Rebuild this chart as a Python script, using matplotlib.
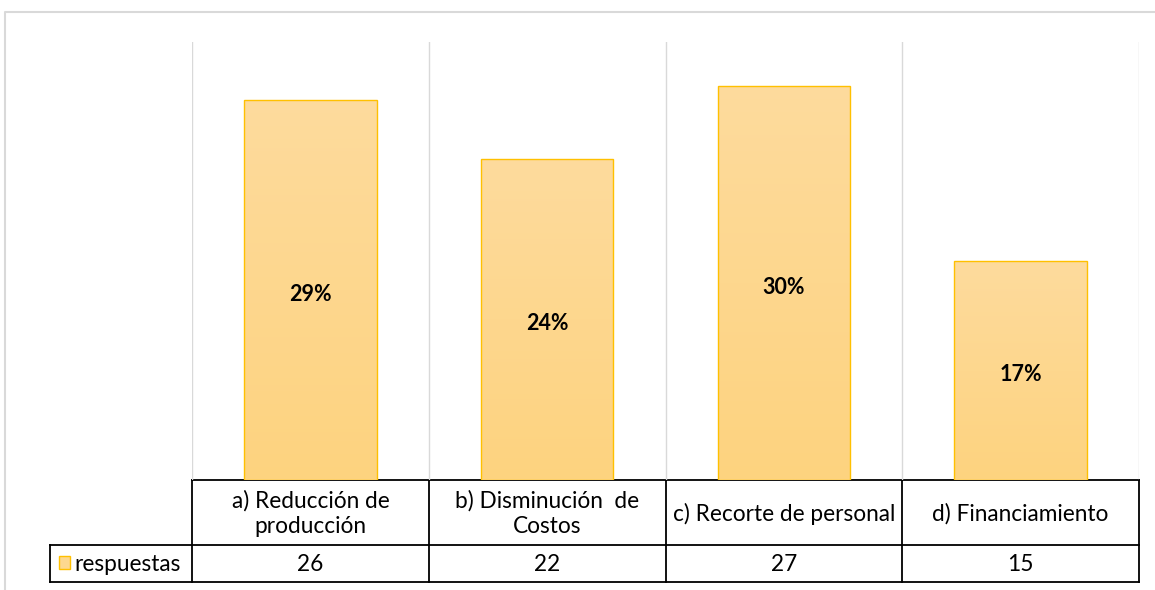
import matplotlib
matplotlib.use("Agg")
import matplotlib.pyplot as plt
import numpy as np
from matplotlib.colors import LinearSegmentedColormap
from matplotlib.patches import Rectangle

categories = ["a) Reducción de\nproducción", "b) Disminución  de\nCostos",
              "c) Recorte de personal", "d) Financiamiento"]
values = [26, 22, 27, 15]
pct_labels = ["29%", "24%", "30%", "17%"]
series_name = "respuestas"

plt.rcParams['font.family'] = ['Lato', 'DejaVu Sans']

W, H = 1155, 590
fig = plt.figure(figsize=(W / 100, H / 100), dpi=100)

# overlay axes in pixel coordinates (origin top-left)
ov = fig.add_axes([0, 0, 1, 1])
ov.set_xlim(0, W)
ov.set_ylim(H, 0)
ov.axis("off")

# outer chart border
ov.plot([5, 5, W + 5], [H + 5, 12, 12], color="#D9D9D9", lw=1.5, zorder=1)

# plot area
L, R, T, B = 192, 1139, 42, 480
ax = fig.add_axes([L / W, (H - B) / H, (R - L) / W, (B - T) / H])
ax.set_xlim(-0.5, len(categories) - 0.5)
ax.set_ylim(0, 30)
for s in ax.spines.values():
    s.set_visible(False)
ax.set_xticks([])
ax.set_yticks([])
ax.patch.set_alpha(0)

for b in np.arange(-0.5, len(categories), 1.0):
    ax.axvline(b, color="#D9D9D9", lw=1.0, zorder=0)

cmap = LinearSegmentedColormap.from_list("g", ["#FDD37F", "#FEDB9D"])
grad = np.linspace(0, 1, 256).reshape(-1, 1)
bars = ax.bar(range(len(values)), values, width=0.56, color="none",
              edgecolor="#FFC000", lw=1.0, zorder=3)
for bar, lab in zip(bars, pct_labels):
    x0, w, h = bar.get_x(), bar.get_width(), bar.get_height()
    im = ax.imshow(grad, cmap=cmap, aspect="auto", origin="lower",
                   extent=[x0, x0 + w, 0, h], zorder=2)
    im.set_clip_path(bar)
    ax.annotate(lab, (x0 + w / 2, h / 2), xytext=(0, -3),
                textcoords="offset points", ha="center", va="center",
                fontsize=15.5, fontweight="bold", color="#000000", zorder=4)
ax.set_xlim(-0.5, len(categories) - 0.5)
ax.set_ylim(0, 30)

# data table
row1_top, row1_bot, row2_bot = 480, 545, 582
key_left = 50
cell_w = (R - L) / len(categories)
lc = "#000000"
lw = 1.3
ov.plot([L, R], [row1_top, row1_top], color=lc, lw=lw)
ov.plot([key_left, R], [row1_bot, row1_bot], color=lc, lw=lw)
ov.plot([key_left, R], [row2_bot, row2_bot], color=lc, lw=lw)
ov.plot([key_left, key_left], [row1_bot, row2_bot], color=lc, lw=lw)
for i in range(len(categories) + 1):
    x = L + i * cell_w
    ov.plot([x, x], [row1_top, row2_bot], color=lc, lw=lw)

fs = 16.3
for i, (cat, v) in enumerate(zip(categories, values)):
    cx = L + (i + 0.5) * cell_w
    ov.text(cx, (row1_top + row1_bot) / 2 + 1, cat, ha="center", va="center",
            fontsize=fs, linespacing=1.22, color="#000000")
    ov.text(cx, (row1_bot + row2_bot) / 2 + 1, str(v), ha="center", va="center",
            fontsize=fs, color="#000000")

ov.add_patch(Rectangle((59, 556), 11, 13, facecolor="#FDD88F",
                       edgecolor="#FFC000", lw=1.0))
ov.text(74, (row1_bot + row2_bot) / 2 + 1, series_name, ha="left", va="center",
        fontsize=fs, color="#000000")

fig.savefig("out.png", dpi=100)
